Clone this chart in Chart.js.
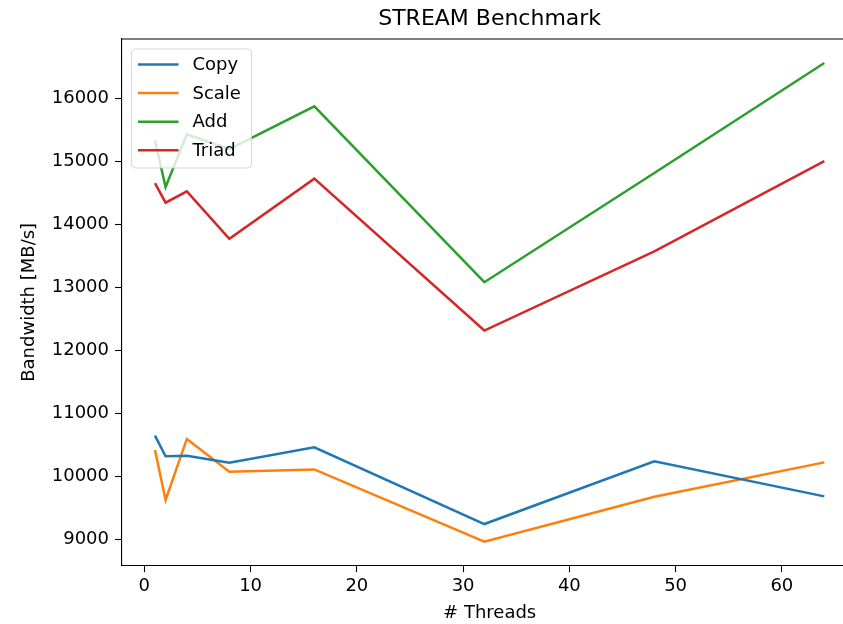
<!DOCTYPE html>
<html>
<head>
<meta charset="utf-8">
<script src="https://cdn.jsdelivr.net/npm/chart.js@4/dist/chart.umd.min.js"></script>
<style>
  html, body { margin: 0; padding: 0; background: #fff; overflow: hidden; width: 843px; height: 624px; }
  canvas { display: block; }
</style>
</head>
<body>
<canvas id="c" width="880" height="624"></canvas>
<script>
// Thread counts and measured bandwidth (MB/s) for each STREAM kernel
const threads = [1, 2, 4, 8, 16, 32, 48, 64];
const copyMBs  = [10647, 10319, 10330, 10219, 10462, 9245, 10239, 9684];
const scaleMBs = [10420, 9626, 10595, 10075, 10111, 8964, 9679, 10223];
const addMBs   = [15332, 14591, 15427, 15194, 15872, 13082, 14815, 16560];
const triadMBs = [14654, 14343, 14522, 13771, 14724, 12315, 13571, 15003];

const seriesNames = ['Copy', 'Scale', 'Add', 'Triad'];
const xTickValues = [0, 10, 20, 30, 40, 50, 60];
const yTickValues = [9000, 10000, 11000, 12000, 13000, 14000, 15000, 16000];

const colors = ['#1f77b4', '#ff7f0e', '#2ca02c', '#d62728'];
const FONT = "'DejaVu Sans', sans-serif";
const TXT = '#000000';

function pts(vals) { return threads.map((t, i) => ({ x: t, y: vals[i] })); }
const allSeries = [copyMBs, scaleMBs, addMBs, triadMBs];

// axis limits with 5% margins around the data range
const allY = allSeries.flat();
const yMinD = Math.min(...allY), yMaxD = Math.max(...allY);
const yPad = (yMaxD - yMinD) * 0.05;
const xPad = (threads[threads.length - 1] - threads[0]) * 0.05;

// Title centred over the plot area, the top spine and the legend box
const decor = {
  id: 'decor',
  afterDraw(chart) {
    const { ctx, chartArea: a } = chart;
    ctx.save();
    ctx.strokeStyle = '#000';
    ctx.lineWidth = 1.1;
    ctx.beginPath();
    ctx.moveTo(a.left, a.top);
    ctx.lineTo(a.right, a.top);
    ctx.lineTo(a.right, a.bottom);
    ctx.stroke();
    // title
    ctx.fillStyle = TXT;
    ctx.font = `22px ${FONT}`;
    ctx.textAlign = 'center';
    ctx.textBaseline = 'alphabetic';
    ctx.fillText('STREAM Benchmark', (a.left + a.right) / 2, 25);
    // legend
    const bx = a.left + 10, by = a.top + 10, bw = 120, bh = 119, r = 4;
    ctx.beginPath();
    ctx.moveTo(bx + r, by);
    ctx.arcTo(bx + bw, by, bx + bw, by + bh, r);
    ctx.arcTo(bx + bw, by + bh, bx, by + bh, r);
    ctx.arcTo(bx, by + bh, bx, by, r);
    ctx.arcTo(bx, by, bx + bw, by, r);
    ctx.closePath();
    ctx.fillStyle = 'rgba(255,255,255,0.8)';
    ctx.fill();
    ctx.strokeStyle = 'rgba(204,204,204,0.8)';
    ctx.lineWidth = 1;
    ctx.stroke();
    ctx.font = `18px ${FONT}`;
    ctx.textAlign = 'left';
    ctx.textBaseline = 'middle';
    chart.data.datasets.forEach((ds, i) => {
      const y = by + 15.5 + i * 28.6;
      ctx.strokeStyle = ds.borderColor;
      ctx.lineWidth = 2.5;
      ctx.beginPath();
      ctx.moveTo(bx + 6.5, y);
      ctx.lineTo(bx + 47, y);
      ctx.stroke();
      ctx.fillStyle = TXT;
      ctx.fillText(ds.label, bx + 61, y + 1);
    });
    ctx.restore();
  }
};

new Chart(document.getElementById('c'), {
  type: 'line',
  data: {
    datasets: allSeries.map((vals, i) => ({
      label: seriesNames[i],
      data: pts(vals),
      borderColor: colors[i],
      backgroundColor: colors[i],
      borderWidth: 2.5,
      pointRadius: 0,
      fill: false,
      tension: 0
    }))
  },
  options: {
    responsive: false,
    animation: false,
    events: [],
    // the plot area runs a little past the visible right edge of the page
    layout: { padding: { top: 39, right: 22.2, left: 0, bottom: 0 } },
    plugins: { legend: { display: false }, title: { display: false }, tooltip: { enabled: false } },
    scales: {
      x: {
        type: 'linear',
        min: threads[0] - xPad,
        max: threads[threads.length - 1] + xPad,
        afterBuildTicks(s) { s.ticks = xTickValues.map(v => ({ value: v })); },
        afterFit(s) { s.height = 58.3; },
        grid: { display: true, drawOnChartArea: false, drawTicks: true, tickLength: 6.5, tickWidth: 1.1, tickColor: '#000' },
        border: { display: true, color: '#000', width: 1.1 },
        ticks: { color: TXT, font: { family: FONT, size: 18 }, padding: 3, maxRotation: 0, callback: v => String(v) },
        title: { display: true, text: '# Threads', color: TXT, font: { family: FONT, size: 18 }, padding: { top: 0, bottom: 0 } }
      },
      y: {
        type: 'linear',
        min: yMinD - yPad,
        max: yMaxD + yPad,
        afterBuildTicks(s) { s.ticks = yTickValues.map(v => ({ value: v })); },
        afterFit(s) { s.width = 121.5; },
        grid: { display: true, drawOnChartArea: false, drawTicks: true, tickLength: 6.5, tickWidth: 1.1, tickColor: '#000' },
        border: { display: true, color: '#000', width: 1.1 },
        ticks: { color: TXT, font: { family: FONT, size: 18 }, padding: 6, callback: v => String(v) },
        title: { display: true, text: 'Bandwidth [MB/s]', color: TXT, font: { family: FONT, size: 18 }, padding: { top: 19, bottom: 0 } }
      }
    }
  },
  plugins: [decor]
});
</script>
</body>
</html>
